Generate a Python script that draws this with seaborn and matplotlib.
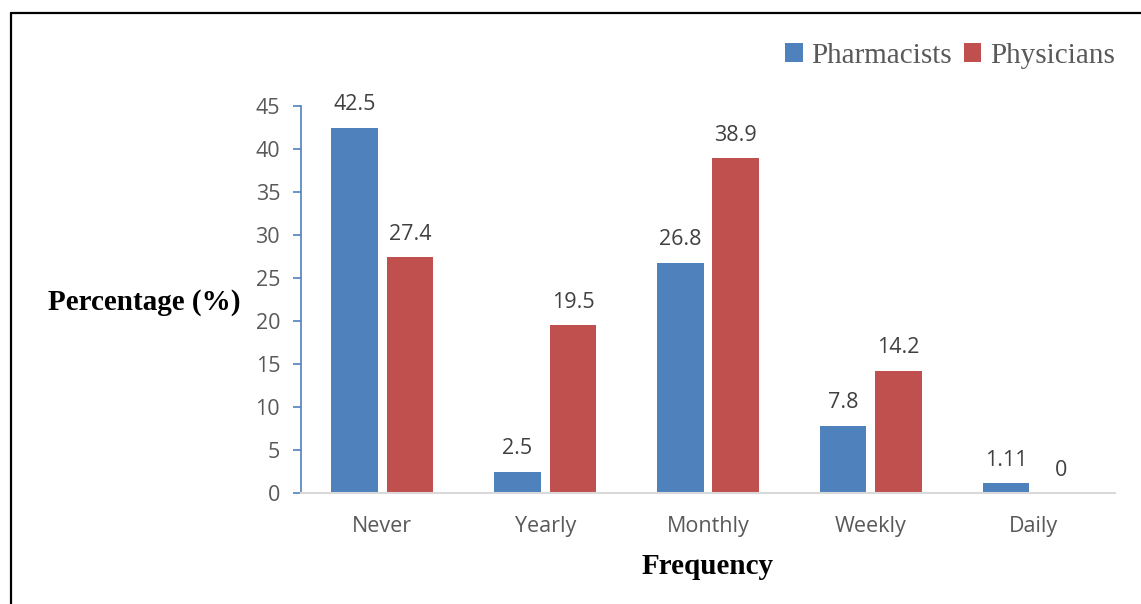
import matplotlib
matplotlib.use("Agg")
import matplotlib.pyplot as plt
import seaborn as sns
import pandas as pd
from matplotlib.patches import Patch
from matplotlib.lines import Line2D

categories = ["Never", "Yearly", "Monthly", "Weekly", "Daily"]
pharmacists = [42.5, 2.5, 26.8, 7.8, 1.11]
physicians = [27.4, 19.5, 38.9, 14.2, 0]
series_names = ["Pharmacists", "Physicians"]
value_labels = {"Pharmacists": ["42.5", "2.5", "26.8", "7.8", "1.11"],
                "Physicians": ["27.4", "19.5", "38.9", "14.2", "0"]}
yticks = [0, 5, 10, 15, 20, 25, 30, 35, 40, 45]

colors = {"Pharmacists": "#4f81bd", "Physicians": "#c0504d"}

df = pd.DataFrame({
    "Frequency": categories * 2,
    "Value": pharmacists + physicians,
    "Group": [series_names[0]] * len(categories) + [series_names[1]] * len(categories),
})

sns.set_style("white")
plt.rcParams["font.family"] = ["Open Sans", "DejaVu Sans"]

fig = plt.figure(figsize=(11.41, 6.04), dpi=100)
ax = fig.add_axes([301 / 1141, 1 - 493 / 604, (1115 - 301) / 1141, (493 - 106) / 604])

sns.barplot(data=df, x="Frequency", y="Value", hue="Group", order=categories,
            hue_order=series_names, palette=colors, width=0.68, gap=0.16,
            ax=ax, legend=False, saturation=1, linewidth=0)

for cont, name in zip(ax.containers, series_names):
    ax.bar_label(cont, labels=value_labels[name], padding=9, fontsize=15.5,
                 color="#404040")

ax.set_ylim(0, 45)
ax.set_xlim(-0.5, 4.5)
ax.set_yticks(yticks)
ax.set_xlabel("")
ax.set_ylabel("")
for s in ["top", "right"]:
    ax.spines[s].set_visible(False)
ax.spines["left"].set_color("#4f81bd")
ax.spines["left"].set_linewidth(1.2)
ax.spines["bottom"].set_color("#d9d9d9")
ax.spines["bottom"].set_linewidth(1.5)
ax.tick_params(axis="y", which="both", left=True, direction="out", length=6,
               width=1.2, color="#4f81bd", labelsize=15.5, labelcolor="#595959", pad=9)
ax.tick_params(axis="x", bottom=False, labelsize=15.5, labelcolor="#595959", pad=13)

fig.text(48 / 1141, 1 - 302 / 604, "Percentage (%)", family="Liberation Serif",
         fontweight="bold", fontsize=21, ha="left", va="center", color="black")
fig.text(708 / 1141, 1 - 566 / 604, "Frequency", family="Liberation Serif",
         fontweight="bold", fontsize=21, ha="center", va="center", color="black")

handles = [Patch(facecolor=colors[n], edgecolor="none", label=n) for n in series_names]
leg = fig.legend(handles=handles, loc="center right",
                 bbox_to_anchor=(1115 / 1141, 1 - 56 / 604), ncol=2, frameon=False,
                 handlelength=0.6, handleheight=0.6, handletextpad=0.3,
                 columnspacing=0.4, borderpad=0, borderaxespad=0,
                 prop={"family": "Liberation Serif", "size": 21})
for t in leg.get_texts():
    t.set_color("#595959")

fig.add_artist(Line2D([10.5 / 1141, 10.5 / 1141], [0, 1 - 12.5 / 604],
                      transform=fig.transFigure, color="black", lw=1.6))
fig.add_artist(Line2D([10.5 / 1141, 1], [1 - 12.5 / 604, 1 - 12.5 / 604],
                      transform=fig.transFigure, color="black", lw=1.6))

fig.savefig("out.png", dpi=100)
